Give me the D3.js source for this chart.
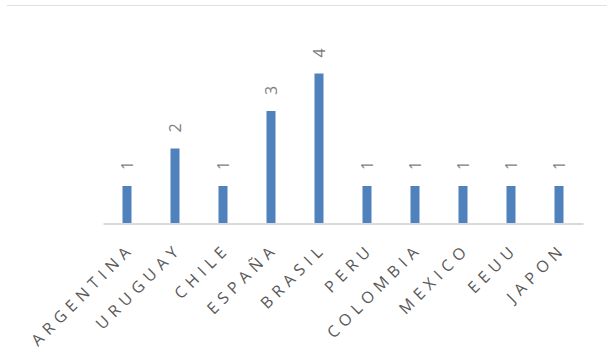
<!DOCTYPE html>
<html>
<head>
<meta charset="utf-8">
<script src="https://cdn.jsdelivr.net/npm/d3@7"></script>
<style>
  html, body { margin: 0; padding: 0; background: #fff; }
  svg { display: block; }
</style>
</head>
<body>
<svg id="chart" width="607" height="364"></svg>
<script>
const categories = ["ARGENTINA", "URUGUAY", "CHILE", "ESPAÑA", "BRASIL", "PERU", "COLOMBIA", "MEXICO", "EEUU", "JAPON"];
const values = [1, 2, 1, 3, 4, 1, 1, 1, 1, 1];
const yDomain = [0, 5];

const svg = d3.select("#chart");
const W = 607, H = 364;

// chart border top line
svg.append("line")
  .attr("x1", 7).attr("x2", W).attr("y1", 5.5).attr("y2", 5.5)
  .attr("stroke", "#e0e0e0").attr("stroke-width", 1);

const x = d3.scaleBand().domain(categories).range([103, 583]).paddingInner(0).paddingOuter(0);
const y = d3.scaleLinear().domain(yDomain).range([223.5, 36]);

const barW = 9;

svg.append("g").selectAll("rect")
  .data(values)
  .join("rect")
  .attr("x", (d, i) => x(categories[i]) + x.bandwidth() / 2 - barW / 2)
  .attr("y", d => y(d))
  .attr("width", barW)
  .attr("height", d => y(0) - y(d))
  .attr("fill", "#4f81bd");

// x axis
const xAxis = d3.axisBottom(x).tickSize(0).tickPadding(0);
const gx = svg.append("g").attr("transform", `translate(0,${y(0)})`).call(xAxis);
gx.select(".domain").attr("stroke", "#d9d9d9").attr("stroke-width", 2);
gx.selectAll(".tick text")
  .attr("font-family", "'Open Sans', 'Liberation Sans', sans-serif")
  .attr("font-size", 16)
  .attr("fill", "#595959")
  .attr("letter-spacing", "5.5px")
  .attr("text-anchor", "end")
  .attr("dominant-baseline", "central")
  .attr("y", 0).attr("dy", null)
  .attr("transform", "translate(4,22) rotate(-45)");

// data labels
svg.append("g").selectAll("text")
  .data(values)
  .join("text")
  .attr("transform", (d, i) => `translate(${x(categories[i]) + x.bandwidth() / 2},${y(d) - 16}) rotate(-90)`)
  .attr("text-anchor", "start")
  .attr("dominant-baseline", "central")
  .attr("font-family", "'Open Sans', 'Liberation Sans', sans-serif")
  .attr("font-size", 16)
  .attr("fill", "#7f7f7f")
  .text(d => d);
</script>
</body>
</html>
